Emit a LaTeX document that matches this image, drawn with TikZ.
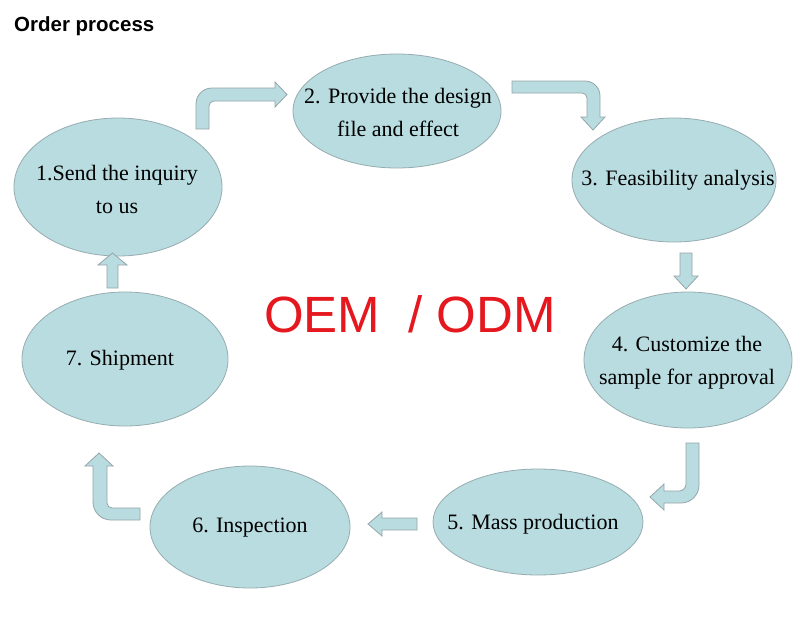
\documentclass[tikz,border=0pt]{standalone}
\usepackage{fontspec}
\setmainfont{Liberation Serif}
\newfontfamily\arialfont{Liberation Sans}
\usetikzlibrary{shapes.geometric}
\definecolor{bubfill}{RGB}{184,220,224}
\definecolor{bubline}{RGB}{150,172,176}
\definecolor{arrline}{RGB}{150,165,168}
\definecolor{oemred}{RGB}{228,24,30}
\tikzset{
  bub/.style={ellipse, draw=bubline, fill=bubfill, line width=0.8pt, inner sep=0pt},
  txt/.style={align=center, font=\fontsize{22}{33}\selectfont, text=black},
  blockarrow/.style={draw=arrline, fill=bubfill, line width=0.8pt, line join=miter},
}
\begin{document}
\begin{tikzpicture}[x=1pt,y=-1pt]
\useasboundingbox (0,0) rectangle (806,622);
\fill[white] (0,0) rectangle (806,622);

\node[anchor=base west, inner sep=0pt, font=\arialfont\bfseries\fontsize{20.5}{24}\selectfont] (title) at (14,31) {Order process};

% bubbles
\node[bub, minimum width=208pt, minimum height=138pt] (e1) at (118,187) {};
\node[bub, minimum width=208pt, minimum height=114pt] (e2) at (397,111) {};
\node[bub, minimum width=204pt, minimum height=124pt] (e3) at (674,180) {};
\node[bub, minimum width=208pt, minimum height=136pt] (e4) at (688,360) {};
\node[bub, minimum width=210pt, minimum height=106pt] (e5) at (538,522) {};
\node[bub, minimum width=200pt, minimum height=122pt] (e6) at (250,527) {};
\node[bub, minimum width=206pt, minimum height=134pt] (e7) at (125,359) {};

\node[txt] (t1) at (117,189) {1.Send the inquiry\\to us};
\node[txt] (t2) at (398,112) {2. Provide the design\\file and effect};
\node[txt] (t3) at (678,180) {3. Feasibility analysis};
\node[txt] (t4) at (687,363) {4. Customize the\\sample for approval};
\node[txt] (t5) at (533,524) {5. Mass production};
\node[txt] (t6) at (250,528) {6. Inspection};
\node[txt] (t7) at (120,360) {7. Shipment};

\node[inner sep=0pt, anchor=base, text=oemred, font=\arialfont\fontsize{51}{60}\selectfont] (oem) at (410,332) {OEM\ \ / ODM};

% arrows
\draw[blockarrow] (196,129) -- (196,104) to[out=90,in=180] (212,88) -- (275,88) -- (275,82) -- (287,94.5) -- (275,107) -- (275,101) -- (214,101) to[out=180,in=90] (209,106) -- (209,129) -- cycle;
\draw[blockarrow] (512,81) -- (585,81) to[out=0,in=90] (600,96) -- (600,117) -- (605,117) -- (593,130) -- (581,117) -- (587,117) -- (587,98) to[out=90,in=0] (582,93) -- (512,93) -- cycle;
\draw[blockarrow] (680,253) -- (692,253) -- (692,276) -- (698,276) -- (686,289) -- (674,276) -- (680,276) -- cycle;
\draw[blockarrow] (686,443) -- (699,443) -- (699,485) to[out=-90,in=0] (681,503) -- (664,503) -- (664,510) -- (650,497) -- (664,484) -- (664,491) -- (679,491) to[out=0,in=-90] (686,484) -- cycle;
\draw[blockarrow] (417,518) -- (417,530) -- (382,530) -- (382,536) -- (368,524) -- (382,512) -- (382,518) -- cycle;
\draw[blockarrow] (140,508) -- (112,508) to[out=180,in=-90] (107,503) -- (107,466) -- (113,466) -- (99,453) -- (85,466) -- (93,466) -- (93,502) to[out=-90,in=180] (111,520) -- (140,520) -- cycle;
\draw[blockarrow] (107,288) -- (118,288) -- (118,265) -- (127,265) -- (112.5,253) -- (98,265) -- (107,265) -- cycle;
\end{tikzpicture}
\end{document}
